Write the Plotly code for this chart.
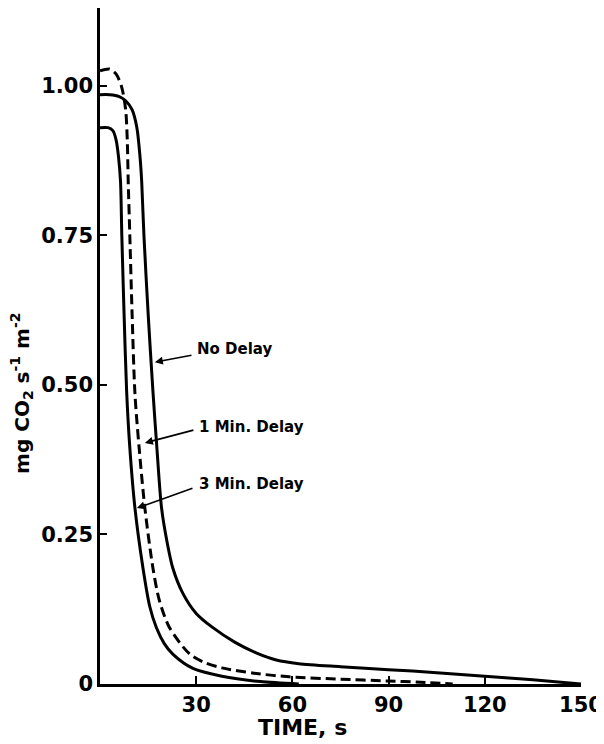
import plotly.graph_objects as go

# ---- data ----
t_no_delay = [0, 3, 6, 8, 10, 11.5, 12.5, 13, 13.7, 15, 16.5, 17.8, 19.2, 21, 22.7, 25.8, 30, 35,
              42, 48.7, 55, 62, 75, 90, 105, 120, 135, 150]
y_no_delay = [0.985, 0.985, 0.982, 0.975, 0.96, 0.93, 0.88, 0.84, 0.75, 0.62, 0.49, 0.39, 0.294,
              0.235, 0.194, 0.152, 0.118, 0.095, 0.07, 0.052, 0.04, 0.034, 0.029, 0.024, 0.019,
              0.013, 0.007, 0.0]

t_1min = [0, 3, 5, 6.8, 8, 8.5, 8.8, 9.3, 10.0, 10.9, 12.2, 14, 16.5, 18.5, 21.7, 28, 33, 38, 48,
          59, 75, 90, 100, 110]
y_1min = [1.025, 1.028, 1.02, 0.997, 0.96, 0.91, 0.84, 0.75, 0.62, 0.485, 0.395, 0.294, 0.194,
          0.14, 0.094, 0.05, 0.035, 0.027, 0.018, 0.012, 0.008, 0.005, 0.003, 0.0]

t_3min = [0, 2.5, 4, 5, 5.8, 6.4, 6.8, 7.5, 8.3, 9.3, 10.9, 13.4, 15.5, 17.6, 20, 22.7, 29, 38,
          50, 62]
y_3min = [0.93, 0.93, 0.925, 0.91, 0.88, 0.84, 0.75, 0.62, 0.49, 0.395, 0.294, 0.194, 0.13, 0.094,
          0.068, 0.05, 0.026, 0.013, 0.004, 0.0]

x_ticks = [30, 60, 90, 120, 150]
y_ticks = [0, 0.25, 0.5, 0.75, 1.0]
y_ticktext = ["0", "0.25", "0.50", "0.75", "1.00"]

labels = ["No Delay", "1 Min. Delay", "3 Min. Delay"]
label_pos = [(29.6, 0.560), (30.2, 0.430), (30.2, 0.334)]
arrow_tail = [(29.0, 0.550), (29.6, 0.425), (29.3, 0.328)]
arrow_tip = [(17.1, 0.538), (14.0, 0.403), (11.5, 0.294)]

FONT = "DejaVu Sans"

fig = go.Figure()
fig.add_trace(go.Scatter(x=t_no_delay, y=y_no_delay, mode="lines",
                         line=dict(color="black", width=3, shape="spline", smoothing=0.8)))
fig.add_trace(go.Scatter(x=t_1min, y=y_1min, mode="lines",
                         line=dict(color="black", width=3, dash="10px,5px", shape="spline",
                                   smoothing=0.8)))
fig.add_trace(go.Scatter(x=t_3min, y=y_3min, mode="lines",
                         line=dict(color="black", width=3, shape="spline", smoothing=0.8)))

annotations = []
for txt, (lx, ly), (tx, ty), (hx, hy) in zip(labels, label_pos, arrow_tail, arrow_tip):
    annotations.append(dict(x=lx, y=ly, xref="x", yref="y", text=txt, showarrow=False,
                            xanchor="left", yanchor="middle",
                            font=dict(family=FONT, size=15, color="black", weight="bold")))
    annotations.append(dict(x=hx, y=hy, ax=tx, ay=ty, xref="x", yref="y", axref="x", ayref="y",
                            text="", showarrow=True, arrowhead=2, arrowsize=1, arrowwidth=1.6,
                            arrowcolor="black"))

annotations.append(dict(x=0.422, y=-0.064, xref="paper", yref="paper", text="TIME, s",
                        showarrow=False, xanchor="center", yanchor="middle",
                        font=dict(family=FONT, size=22, color="black", weight="bold")))
annotations.append(dict(x=-0.163, y=0.43, xref="paper", yref="paper",
                        text="mg CO<sub>2</sub> s<sup>-1</sup> m<sup>-2</sup>",
                        showarrow=False, textangle=-90, xanchor="center", yanchor="middle",
                        font=dict(family=FONT, size=20, color="black", weight="bold")))

fig.update_layout(
    width=596, height=736,
    margin=dict(l=92, r=23, t=0, b=60),
    paper_bgcolor="white", plot_bgcolor="white",
    showlegend=False,
    annotations=annotations,
    xaxis=dict(range=[0, 150], tickvals=x_ticks, ticks="inside", ticklen=8, tickwidth=2,
               tickcolor="black", showline=True, linecolor="black", linewidth=3,
               showgrid=False, zeroline=False, automargin=False,
               tickfont=dict(family=FONT, size=21, color="black", weight="bold")),
    yaxis=dict(range=[0, 1.130], tickvals=y_ticks, ticktext=y_ticktext, ticks="inside",
               ticklen=7, tickwidth=2, tickcolor="black", showline=True, linecolor="black",
               linewidth=2.5, showgrid=False, zeroline=False, automargin=False,
               tickfont=dict(family=FONT, size=21, color="black", weight="bold")),
)

fig.write_html("out.html")
